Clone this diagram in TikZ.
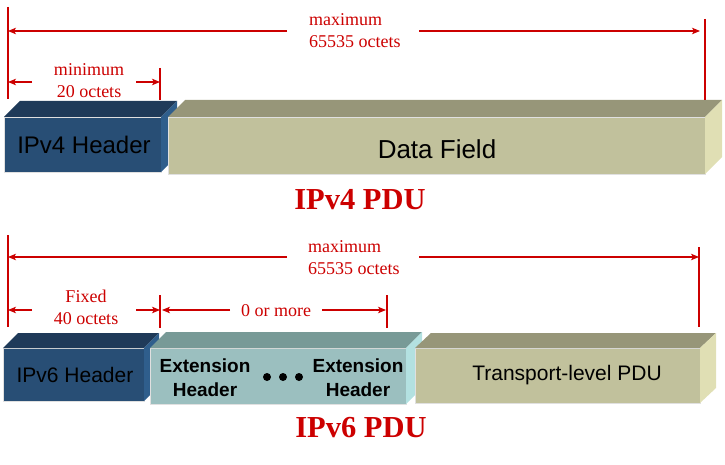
\documentclass[tikz,border=0pt]{standalone}
\usepackage{fontspec}
\setmainfont{Liberation Serif}
\setsansfont{Liberation Sans}
\usetikzlibrary{arrows.meta}
\definecolor{dimred}{HTML}{CC0000}
\definecolor{hfront}{HTML}{284E75}
\definecolor{htop}{HTML}{1F3A59}
\definecolor{hside}{HTML}{2F5E8C}
\definecolor{dfront}{HTML}{C1C19C}
\definecolor{dtop}{HTML}{979679}
\definecolor{dside}{HTML}{E0DFB4}
\definecolor{efront}{HTML}{9BBFBF}
\definecolor{etop}{HTML}{789A97}
\definecolor{eside}{HTML}{B3E1E1}
\tikzset{
  frontface/.style={inner sep=0pt, outer sep=0pt, draw=black!12, line width=0.5pt},
  dimline/.style={draw=dimred, line width=1.1pt},
  dimarrow/.style={dimline, -{Stealth[length=8pt,width=6.5pt,inset=2pt]}},
  dimlabel/.style={text=dimred, font=\fontsize{18}{22}\selectfont, inner sep=0pt},
  pdulabel/.style={text=dimred, font=\fontsize{30.5}{34}\selectfont\bfseries, inner sep=0pt},
  boxtext/.style={inner sep=0pt, font=\sffamily\fontsize{#1}{#1}\selectfont},
  exttext/.style={inner sep=0pt, align=center, font=\sffamily\bfseries\fontsize{19}{24}\selectfont},
  dot/.style={circle, fill=black, minimum size=8pt, inner sep=0pt},
}
\newcommand\prismfaces[5]{%
  \fill[#4] (#1.north west) -- ++(#2,-#3) -- ([shift={(#2,-#3)}]#1.north east) -- (#1.north east) -- cycle;
  \fill[#5] (#1.north east) -- ++(#2,-#3) -- ([shift={(#2,-#3)}]#1.south east) -- (#1.south east) -- cycle;
}
\begin{document}
\begin{tikzpicture}[x=1pt,y=-1pt]
\useasboundingbox (0,0) rectangle (725,465);

% ---------- IPv4 ----------
\node[frontface, fill=hfront, minimum width=157pt, minimum height=55pt] (h4) at (82.5,144.5) {};
\prismfaces{h4}{16}{16}{htop}{hside}
\node[boxtext=24] (h4t) at (84,145) {IPv4 Header};

\node[frontface, fill=dfront, minimum width=537pt, minimum height=57pt] (df) at (436.5,145.5) {};
\prismfaces{df}{17}{17}{dtop}{dside}
\node[boxtext=26] (dft) at (437,149) {Data Field};

\node[pdulabel] (p4) at (360,200) {IPv4 PDU};

\coordinate (t4L) at (8,7);   \coordinate (b4L) at (8,99);
\coordinate (t4R) at (705,19); \coordinate (b4R) at (705,100);
\coordinate (t4M) at (160,68); \coordinate (b4M) at (160,100);
\draw[dimline] (t4L) -- (b4L);
\draw[dimline] (t4R) -- (b4R);
\draw[dimline] (t4M) -- (b4M);

\coordinate (mx4a) at (287,31); \coordinate (mx4l) at (8,31);
\coordinate (mx4b) at (419,31); \coordinate (mx4r) at (700,31);
\draw[dimarrow] (mx4a) -- (mx4l);
\draw[dimarrow] (mx4b) -- (mx4r);
\node[dimlabel, align=left, anchor=west] (mx4t) at (309,31) {maximum\\65535 octets};

\coordinate (mn4a) at (32,82); \coordinate (mn4l) at (8,82);
\coordinate (mn4b) at (136,82); \coordinate (mn4r) at (160,82);
\draw[dimarrow] (mn4a) -- (mn4l);
\draw[dimarrow] (mn4b) -- (mn4r);
\node[dimlabel, align=center] (mn4t) at (89,81) {minimum\\20 octets};

% ---------- IPv6 ----------
\node[frontface, fill=hfront, minimum width=141pt, minimum height=53pt] (h6) at (73.5,374.5) {};
\prismfaces{h6}{15}{15}{htop}{hside}
\node[boxtext=21] (h6t) at (75,375) {IPv6 Header};

\node[frontface, fill=efront, minimum width=256pt, minimum height=56pt] (ex) at (278,376) {};
\prismfaces{ex}{16}{16}{etop}{eside}
\node[exttext] (ex1) at (205,378) {Extension\\Header};
\node[exttext] (ex2) at (358,378) {Extension\\Header};
\node[dot] (d1) at (267,377) {};
\node[dot] (d2) at (283,377) {};
\node[dot] (d3) at (299,377) {};

\node[frontface, fill=dfront, minimum width=285pt, minimum height=55pt] (tp) at (557.5,375.5) {};
\prismfaces{tp}{16}{15}{dtop}{dside}
\node[boxtext=21] (tpt) at (567,375) {Transport-level PDU};

\node[pdulabel] (p6) at (361,428) {IPv6 PDU};

\coordinate (t6L) at (8,235);   \coordinate (b6L) at (8,327);
\coordinate (t6R) at (699,247); \coordinate (b6R) at (699,327);
\coordinate (t6M) at (160,295); \coordinate (b6M) at (160,328);
\coordinate (t6N) at (387,295); \coordinate (b6N) at (387,328);
\draw[dimline] (t6L) -- (b6L);
\draw[dimline] (t6R) -- (b6R);
\draw[dimline] (t6M) -- (b6M);
\draw[dimline] (t6N) -- (b6N);

\coordinate (mx6a) at (287,257); \coordinate (mx6l) at (8,257);
\coordinate (mx6b) at (419,257); \coordinate (mx6r) at (699,257);
\draw[dimarrow] (mx6a) -- (mx6l);
\draw[dimarrow] (mx6b) -- (mx6r);
\node[dimlabel, align=left, anchor=west] (mx6t) at (308,258) {maximum\\65535 octets};

\coordinate (fx6a) at (32,310); \coordinate (fx6l) at (8,310);
\coordinate (fx6b) at (136,310); \coordinate (fx6r) at (160,310);
\draw[dimarrow] (fx6a) -- (fx6l);
\draw[dimarrow] (fx6b) -- (fx6r);
\node[dimlabel, align=center] (fx6t) at (86,307) {Fixed\\40 octets};

\coordinate (om6a) at (230,310); \coordinate (om6l) at (162,310);
\coordinate (om6b) at (322,310); \coordinate (om6r) at (386,310);
\draw[dimarrow] (om6a) -- (om6l);
\draw[dimarrow] (om6b) -- (om6r);
\node[dimlabel] (om6t) at (276,311) {0 or more};
\end{tikzpicture}
\end{document}
